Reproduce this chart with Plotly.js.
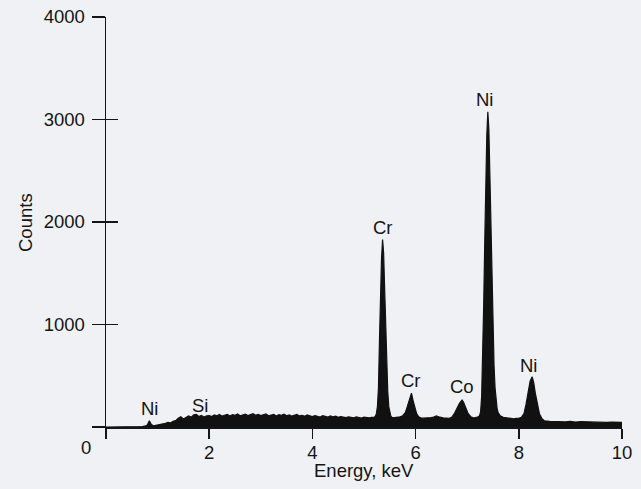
<!DOCTYPE html>
<html>
<head>
<meta charset="utf-8">
<script src="https://cdn.plot.ly/plotly-3.0.1.min.js"></script>
<style>
html,body{margin:0;padding:0;background:#eff1f4;}
#chart{width:641px;height:489px;}
</style>
</head>
<body>
<div id="chart"></div>
<script>
// Energy (keV) and counts
var energy = [
  0.00,0.10,0.20,0.30,0.40,0.50,0.60,0.70,0.75,0.80,0.84,0.88,0.92,0.96,1.00,1.05,1.10,1.15,1.20,1.25,
  1.30,1.35,1.40,1.45,1.50,1.55,1.60,1.65,1.70,1.75,1.80,1.85,1.90,1.95,2.00,2.05,2.10,2.15,2.20,2.25,
  2.30,2.35,2.40,2.45,2.50,2.55,2.60,2.65,2.70,2.75,2.80,2.85,2.90,2.95,3.00,3.05,3.10,3.15,3.20,3.25,
  3.30,3.35,3.40,3.45,3.50,3.55,3.60,3.65,3.70,3.75,3.80,3.85,3.90,3.95,4.00,4.05,4.10,4.15,4.20,4.25,
  4.30,4.35,4.40,4.45,4.50,4.55,4.60,4.65,4.70,4.75,4.80,4.85,4.90,4.95,5.00,5.05,5.10,5.15,5.20,5.22,
  5.24,5.26,5.28,5.30,5.32,5.34,5.36,5.38,5.40,5.42,5.44,5.46,5.48,5.50,5.52,5.55,5.60,5.65,5.70,5.75,
  5.80,5.84,5.88,5.92,5.95,5.98,6.02,6.06,6.10,6.15,6.20,6.25,6.30,6.35,6.40,6.45,6.50,6.55,6.60,6.65,
  6.70,6.75,6.80,6.85,6.90,6.93,6.97,7.02,7.07,7.12,7.16,7.20,7.24,7.26,7.28,7.30,7.32,7.34,7.36,7.38,
  7.40,7.42,7.44,7.46,7.48,7.50,7.52,7.54,7.56,7.58,7.60,7.64,7.70,7.75,7.80,7.85,7.90,7.95,8.00,8.05,
  8.10,8.14,8.18,8.22,8.26,8.29,8.32,8.36,8.40,8.45,8.50,8.60,8.70,8.80,8.90,9.00,9.10,9.20,9.30,9.40,
  9.50,9.60,9.70,9.80,9.90,10.00
];
var counts = [
  0,0,0,0,0,2,3,5,8,20,60,25,12,15,18,22,28,35,45,40,
  55,62,85,100,78,92,108,96,118,122,102,112,98,108,112,102,118,110,122,106,
  116,124,108,120,114,128,110,118,126,112,122,130,115,124,112,120,128,110,118,124,
  108,120,114,126,110,118,106,116,122,108,114,104,118,110,102,112,106,98,110,104,
  96,108,100,106,94,102,98,92,100,96,90,98,94,88,96,92,90,94,95,105,
  130,200,380,850,1300,1650,1830,1700,1350,950,600,350,200,130,105,90,92,95,100,110,
  140,200,280,330,260,190,130,100,90,86,88,84,92,96,108,100,90,86,88,84,
  95,130,180,230,263,240,190,130,100,90,92,96,110,150,300,700,1200,1800,2400,2850,
  3076,2900,2450,1900,1400,950,600,380,260,180,140,110,95,90,85,82,80,84,85,95,
  130,220,350,450,490,430,330,220,130,80,60,55,52,56,50,54,48,52,50,46,
  50,47,45,48,44,45
];
// Peak labels (centre positions)
var labelText = ["Ni","Si","Cr","Cr","Co","Ni","Ni"];
var labelE = [0.84,1.83,5.37,5.92,6.89,7.33,8.18];
var labelCounts = [185,205,1945,449,400,3200,600];

var yTicks = [0,1000,2000,3000,4000];
var yTickText = ["","1000","2000","3000","4000"];
var xTicks = [0,2,4,6,8,10];
var xTickText = ["","2","4","6","8","10"];

var ink = "#151515";
var fam = "Liberation Sans, Arial, sans-serif";
var font = {family:fam, size:18.5, color:ink};

var traces = [{
  x: energy, y: counts, type:"scatter", mode:"lines",
  line:{color:"#111", width:1.2}, fill:"tozeroy", fillcolor:"#111",
  hoverinfo:"skip", showlegend:false
}];

var annotations = labelText.map(function(t,i){
  return {x:labelE[i], y:labelCounts[i], xref:"x", yref:"y", text:t, showarrow:false,
          font:font, yanchor:"middle", xanchor:"center"};
});
annotations.push({x:-0.039, y:-0.049, xref:"paper", yref:"paper", text:"0", showarrow:false,
  font:font, yanchor:"middle", xanchor:"center"});
annotations.push({x:-0.157, y:0.5, xref:"paper", yref:"paper", text:"Counts", showarrow:false,
  font:font, textangle:-90, yanchor:"middle", xanchor:"center"});
annotations.push({x:0.5, y:-0.105, xref:"paper", yref:"paper", text:"Energy, keV", showarrow:false,
  font:font, yanchor:"middle", xanchor:"center"});

var layout = {
  width:641, height:489,
  margin:{l:106, r:19, t:17, b:62},
  paper_bgcolor:"#eff1f4", plot_bgcolor:"rgba(0,0,0,0)",
  font:font,
  showlegend:false,
  xaxis:{range:[0,10], showgrid:false, zeroline:false, showline:true, linecolor:ink, linewidth:1.5,
         ticks:"outside", ticklen:10, tickwidth:1.5, tickcolor:ink, ticklabelstandoff:-2,
         tickvals:xTicks, ticktext:xTickText, tickfont:font},
  xaxis2:{range:[0,10], overlaying:"x", anchor:"y", side:"bottom", showgrid:false, zeroline:false,
         showline:false, ticks:"inside", ticklen:14, tickwidth:1.5, tickcolor:ink,
         tickvals:[10], showticklabels:false},
  yaxis:{range:[0,4000], showgrid:false, zeroline:false, showline:true, linecolor:ink, linewidth:1.5,
         ticks:"outside", ticklen:13, tickwidth:1.5, tickcolor:ink, ticklabelstandoff:3,
         tickvals:yTicks, ticktext:yTickText, tickfont:font},
  yaxis2:{range:[0,4000], overlaying:"y", anchor:"x", side:"left", showgrid:false, zeroline:false,
         showline:false, ticks:"inside", ticklen:12, tickwidth:1.5, tickcolor:ink,
         tickvals:yTicks, showticklabels:false},
  annotations:annotations
};

// invisible trace to activate overlay axes
traces.push({x:[0], y:[0], xaxis:"x2", yaxis:"y2", mode:"markers", marker:{opacity:0}, hoverinfo:"skip", showlegend:false});

Plotly.newPlot("chart", traces, layout, {staticPlot:true});
</script>
</body>
</html>
